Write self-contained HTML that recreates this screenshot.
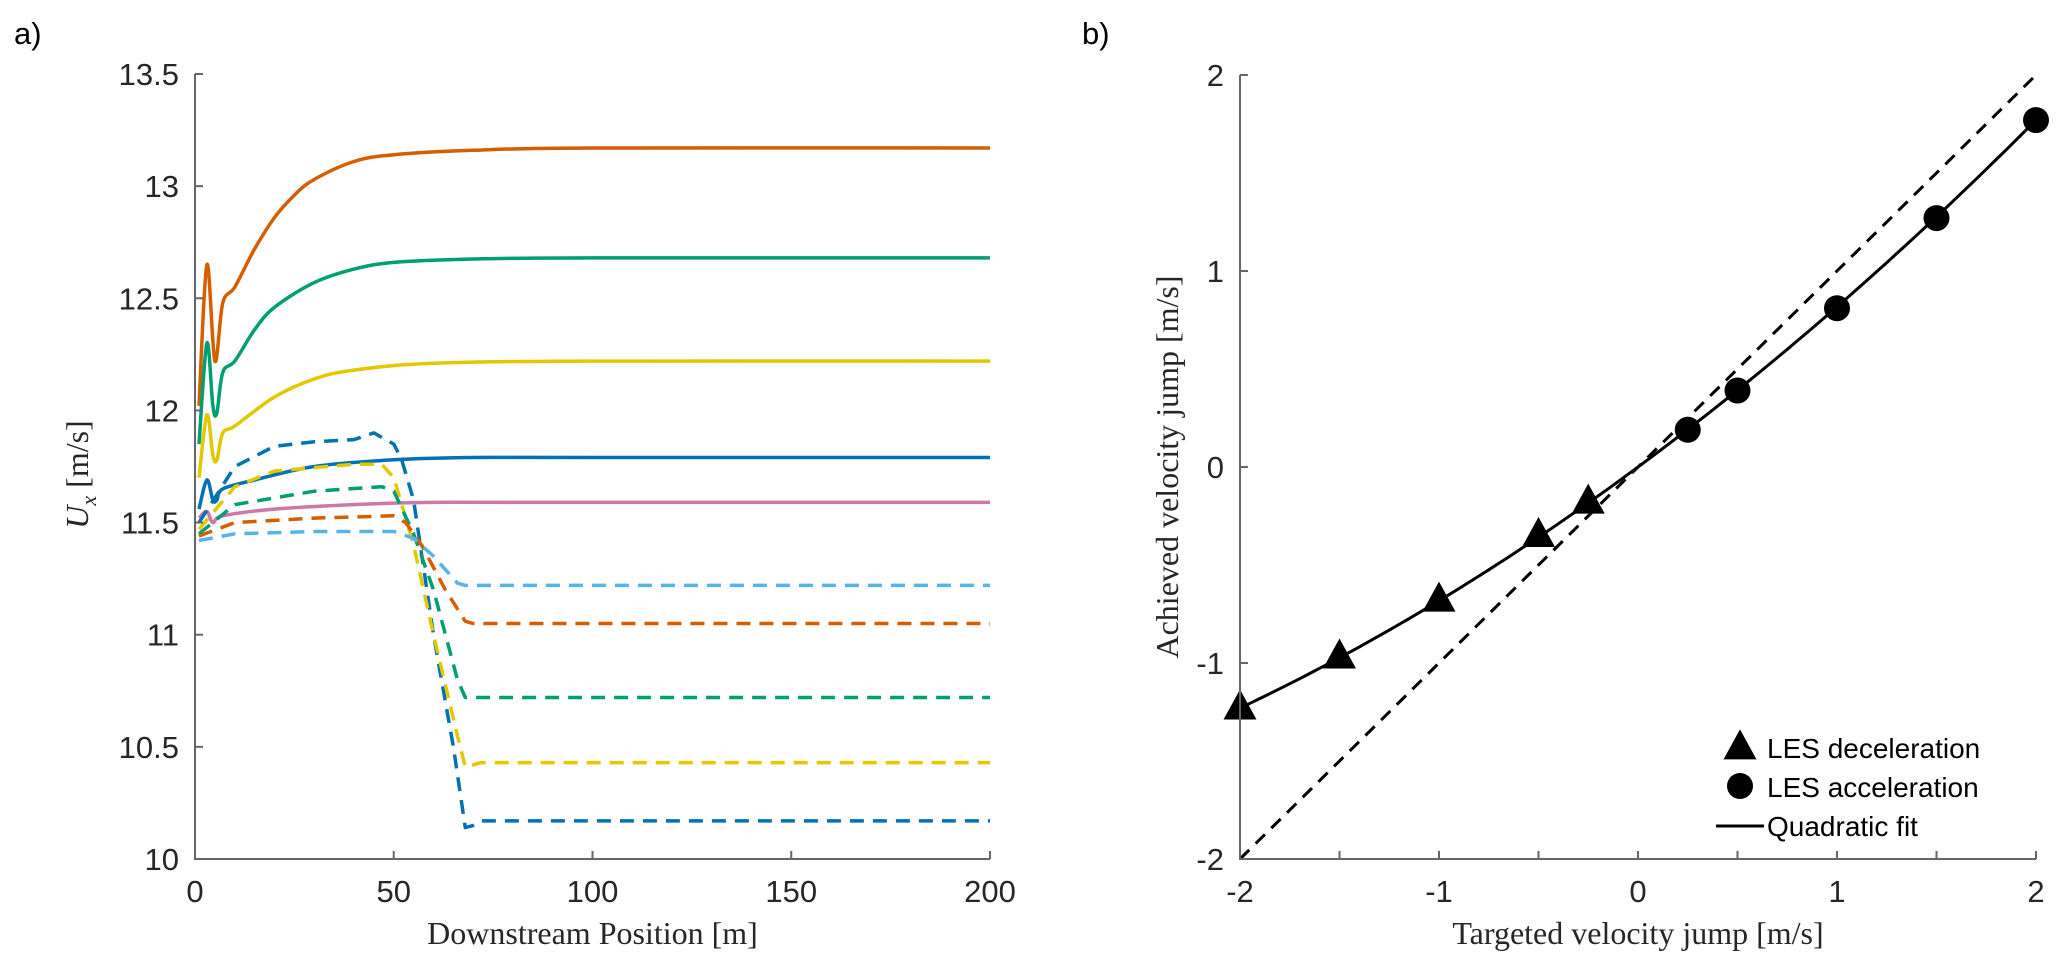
<!DOCTYPE html>
<html><head><meta charset="utf-8">
<style>
html,body{margin:0;padding:0;background:#fff;}
svg{display:block;}
.tick{font-family:"Liberation Sans",sans-serif;font-size:31px;fill:#262626;}
.title{font-family:"Liberation Serif",serif;font-size:32px;fill:#262626;}
.leg{font-family:"Liberation Sans",sans-serif;font-size:28px;fill:#000;}
</style></head>
<body>
<svg id="fig" width="2067" height="970" viewBox="0 0 2067 970" xmlns="http://www.w3.org/2000/svg">
<text x="14" y="44" class="leg" style="font-size:31px">a)</text>
<text x="1082" y="44" class="leg" style="font-size:31px">b)</text>
<g id="pa"></g>
<g id="pb"></g>
</svg>
<script>
// ---------- Panel a data ----------
const aXTicks = [0, 50, 100, 150, 200];
const aYTicks = [10, 10.5, 11, 11.5, 12, 12.5, 13, 13.5];
const aYTickLabels = ["10","10.5","11","11.5","12","12.5","13","13.5"];
const aSeriesNames = ["orange-solid","green-solid","yellow-solid","blue-solid","pink-solid","blue-dashed","yellow-dashed","green-dashed","orange-dashed","lightblue-dashed"];
const aColors = ["#D55E00","#009E73","#E1C800","#0072B2","#CC79A7","#0072B2","#E1C800","#009E73","#D55E00","#56B4E9"];
const aDashed = [false,false,false,false,false,true,true,true,true,true];
const aX0 = [1,3,5,7,10,15,20,25,30,40,50,70,100,200];
const aY0 = [12.02,12.65,12.22,12.48,12.55,12.72,12.86,12.96,13.03,13.11,13.14,13.16,13.17,13.17];
const aX1 = [1,3,4.5,5.5,7,10,15,20,30,40,50,70,100,200];
const aY1 = [11.85,12.3,12.02,11.99,12.17,12.22,12.36,12.46,12.57,12.63,12.66,12.675,12.68,12.68];
const aX2 = [1,3,4.5,5.5,7,10,20,30,40,60,100,200];
const aY2 = [11.7,11.98,11.8,11.78,11.9,11.93,12.06,12.14,12.18,12.21,12.22,12.22];
const aX3 = [1,3,4.5,5.5,7,15,30,50,70,100,200];
const aY3 = [11.56,11.69,11.6,11.6,11.65,11.69,11.75,11.78,11.79,11.79,11.79];
const aX4 = [1,3,4.5,7,20,40,60,100,200];
const aY4 = [11.52,11.55,11.5,11.53,11.56,11.58,11.59,11.59,11.59];
const aX5 = [1,10,20,30,40,45,50,52,55,60,65,68,70,72,200];
const aY5 = [11.5,11.75,11.84,11.86,11.87,11.9,11.85,11.78,11.6,11.0,10.5,10.14,10.15,10.17,10.17];
const aX6 = [1,10,20,40,47,50,55,60,66,68,72,200];
const aY6 = [11.47,11.66,11.73,11.76,11.76,11.7,11.4,11.0,10.55,10.41,10.43,10.43];
const aX7 = [1,10,30,47,50,55,60,66,68,200];
const aY7 = [11.45,11.58,11.64,11.66,11.64,11.45,11.2,10.8,10.72,10.72];
const aX8 = [1,10,30,50,53,57,63,68,70,200];
const aY8 = [11.44,11.5,11.52,11.53,11.5,11.4,11.2,11.06,11.05,11.05];
const aX9 = [1,10,30,50,55,60,66,68,200];
const aY9 = [11.42,11.45,11.46,11.46,11.43,11.35,11.23,11.22,11.22];
const aXs = [aX0,aX1,aX2,aX3,aX4,aX5,aX6,aX7,aX8,aX9];
const aYs = [aY0,aY1,aY2,aY3,aY4,aY5,aY6,aY7,aY8,aY9];

// ---------- Panel b data ----------
const bXTicks = [-2,-1.5,-1,-0.5,0,0.5,1,1.5,2];
const bXTickLabels = ["-2","","-1","","0","","1","","2"];
const bYTicks = [-2,-1,0,1,2];
const decelX = [-2,-1.5,-1,-0.5,-0.25];
const decelY = [-1.23,-0.97,-0.68,-0.35,-0.18];
const accelX = [0.25,0.5,1,1.5,2];
const accelY = [0.19,0.39,0.81,1.27,1.77];
const fitCoef = [0, 0.75, 0.0675]; // c0 + c1 x + c2 x^2

const NS = "http://www.w3.org/2000/svg";
function mk(parent, tag, attrs){const e=document.createElementNS(NS,tag);for(const k in attrs)e.setAttribute(k,attrs[k]);parent.appendChild(e);return e;}
function smoothPath(P){
  let d='M'+P[0][0].toFixed(1)+','+P[0][1].toFixed(1);
  for(let i=0;i<P.length-1;i++){
    const p0=P[Math.max(i-1,0)],p1=P[i],p2=P[i+1],p3=P[Math.min(i+2,P.length-1)];
    const c1=[p1[0]+(p2[0]-p0[0])/6,p1[1]+(p2[1]-p0[1])/6];
    const c2=[p2[0]-(p3[0]-p1[0])/6,p2[1]-(p3[1]-p1[1])/6];
    d+='C'+c1[0].toFixed(1)+','+c1[1].toFixed(1)+' '+c2[0].toFixed(1)+','+c2[1].toFixed(1)+' '+p2[0].toFixed(1)+','+p2[1].toFixed(1);
  }
  return d;
}

// panel a
const pa = document.getElementById('pa');
const aL=195,aR=990,aT=74,aB=859;
const ax = v => aL + (v-0)/(200-0)*(aR-aL);
const ay = v => aB - (v-10)/(13.5-10)*(aB-aT);
for(let s=0;s<aXs.length;s++){
  const pts = aXs[s].map((x,i)=>[ax(x),ay(aYs[s][i])]);
  const d = aDashed[s] ? pts.map((q,i)=>(i?'L':'M')+q[0].toFixed(1)+','+q[1].toFixed(1)).join('') : smoothPath(pts);
  const p = mk(pa,'path',{d:d,fill:'none',stroke:aColors[s],'stroke-width':3.5,'stroke-linejoin':'round'});
  if(aDashed[s]) p.setAttribute('stroke-dasharray','14 9');
  
  
}
const aAxis = mk(pa,'path',{d:`M${aL},${aT}L${aL},${aB}L${aR},${aB}`,fill:'none',stroke:'#666','stroke-width':2});


aXTicks.forEach(t=>{
  mk(pa,'line',{x1:ax(t),x2:ax(t),y1:aB,y2:aB-8,stroke:'#666','stroke-width':2});
  const tx = mk(pa,'text',{x:ax(t),y:aB+43,'text-anchor':'middle',class:'tick'}); tx.textContent=t;
  
  
});
aYTicks.forEach((t,i)=>{
  mk(pa,'line',{x1:aL,x2:aL+8,y1:ay(t),y2:ay(t),stroke:'#666','stroke-width':2});
  const tx = mk(pa,'text',{x:aL-16,y:ay(t)+11,'text-anchor':'end',class:'tick'}); tx.textContent=aYTickLabels[i];
  
  
});
const axt = mk(pa,'text',{x:(aL+aR)/2,y:944,'text-anchor':'middle',class:'title'}); axt.textContent='Downstream Position [m]';


const ayt = mk(pa,'text',{x:0,y:0,'text-anchor':'middle',class:'title',transform:`translate(88,${(aT+aB)/2+8}) rotate(-90)`});
ayt.innerHTML='<tspan font-style="italic">U</tspan><tspan font-style="italic" font-size="22" dy="8">x</tspan><tspan dy="-8">  [m/s]</tspan>';



// panel b
const pb = document.getElementById('pb');
const bL=1240,bR=2036,bT=75,bB=859;
const bx = v => bL + (v+2)/4*(bR-bL);
const by = v => bB - (v+2)/4*(bB-bT);
const ref = mk(pb,'line',{x1:bx(-2),y1:by(-2),x2:bx(2),y2:by(2),stroke:'#000','stroke-width':3,'stroke-dasharray':'13 9'});


let fd='';
for(let i=0;i<=80;i++){const x=-2+i*0.05;const y=fitCoef[0]+fitCoef[1]*x+fitCoef[2]*x*x;fd+=(i?'L':'M')+bx(x).toFixed(1)+','+by(y).toFixed(1);}
const fit = mk(pb,'path',{d:fd,fill:'none',stroke:'#000','stroke-width':3});


function tri(g,cx,cy,s){return mk(g,'polygon',{points:`${cx},${cy-s*0.62} ${cx-s*0.55},${cy+s*0.38} ${cx+s*0.55},${cy+s*0.38}`,fill:'#000'});}
decelX.forEach((x,i)=>{
  const t = tri(pb,bx(x),by(decelY[i]),30);
  
  
});
accelX.forEach((x,i)=>{
  const c = mk(pb,'circle',{cx:bx(x),cy:by(accelY[i]),r:13,fill:'#000'});
  
  
});
const bAxis = mk(pb,'path',{d:`M${bL},${bT}L${bL},${bB}L${bR},${bB}`,fill:'none',stroke:'#666','stroke-width':2});


bXTicks.forEach((t,i)=>{
  mk(pb,'line',{x1:bx(t),x2:bx(t),y1:bB,y2:bB-8,stroke:'#666','stroke-width':2});
  if(bXTickLabels[i]!==''){
    const tx = mk(pb,'text',{x:bx(t),y:bB+43,'text-anchor':'middle',class:'tick'}); tx.textContent=bXTickLabels[i];
    
    
  }
});
bYTicks.forEach(t=>{
  mk(pb,'line',{x1:bL,x2:bL+8,y1:by(t),y2:by(t),stroke:'#666','stroke-width':2});
  const tx = mk(pb,'text',{x:bL-16,y:by(t)+11,'text-anchor':'end',class:'tick'}); tx.textContent=t;
  
  
});
const bxt = mk(pb,'text',{x:(bL+bR)/2,y:944,'text-anchor':'middle',class:'title'}); bxt.textContent='Targeted velocity jump [m/s]';


const byt = mk(pb,'text',{x:0,y:0,'text-anchor':'middle',class:'title',transform:`translate(1178,${(bT+bB)/2}) rotate(-90)`}); byt.textContent='Achieved velocity jump [m/s]';



// legend
const lg = mk(pb,'g',{});


const lt = tri(lg,1740,748,30);


const lc = mk(lg,'circle',{cx:1740,cy:786,r:13,fill:'#000'});


const ll = mk(lg,'line',{x1:1716,x2:1764,y1:826,y2:826,stroke:'#000','stroke-width':3});


[["LES deceleration",758],["LES acceleration",797],["Quadratic fit",836]].forEach(a=>{
  const t = mk(lg,'text',{x:1767,y:a[1],class:'leg'}); t.textContent=a[0];
  
  
});
</script>
</body></html>
